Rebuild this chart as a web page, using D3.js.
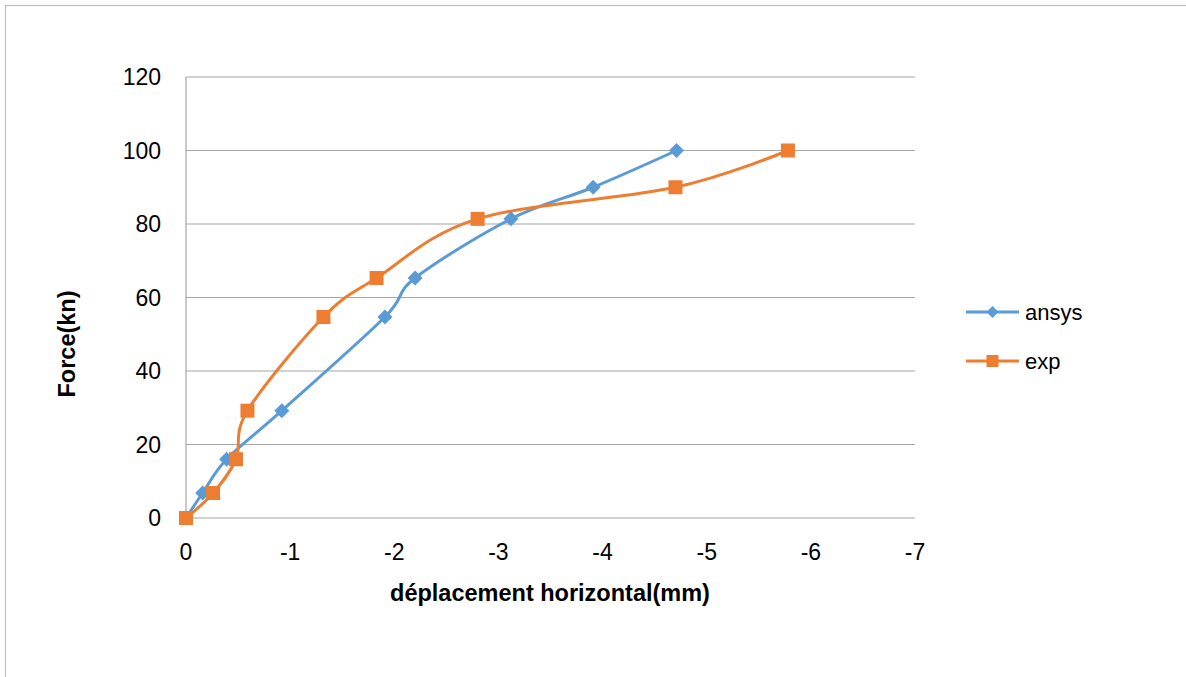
<!DOCTYPE html>
<html>
<head>
    <meta charset="utf-8">
    <title>Force vs déplacement</title>
    <style>
        body { margin: 0; background: #fff; }
        text { font-family: "Liberation Sans", Arial, sans-serif; fill: #000; }
        .grid line { stroke: #a6a6a6; stroke-width: 1.2px; }
        .tick-label { font-size: 23px; }
        .axis-title { font-size: 23.5px; font-weight: bold; }
        .legend text { font-size: 22px; }
    </style>
</head>
<body>
    <svg width="1186" height="677"></svg>

    <script src="https://d3js.org/d3.v7.min.js"></script>
    <script>
        // force levels (kN), shared by both series
        const force = [0, 6.8, 16, 29.2, 54.7, 65.3, 81.4, 90, 100];
        // horizontal displacement (mm)
        const ansysDisp = [0, -0.16, -0.39, -0.92, -1.91, -2.2, -3.12, -3.91, -4.71];
        const expDisp = [0, -0.26, -0.48, -0.59, -1.32, -1.83, -2.8, -4.7, -5.78];

        const xTicks = [0, -1, -2, -3, -4, -5, -6, -7];
        const yTicks = [0, 20, 40, 60, 80, 100, 120];

        const seriesNames = ["ansys", "exp"];
        const colors = { ansys: "#5b9bd5", exp: "#ed7d31" };

        const svg = d3.select("svg");

        // chart border (runs off right / bottom edge)
        svg.append("rect")
            .attr("x", 5.5).attr("y", 5.5)
            .attr("width", 1300).attr("height", 800)
            .attr("fill", "none")
            .attr("stroke", "#bfbfbf")
            .attr("stroke-width", 1.2);

        const x = d3.scaleLinear().domain([0, -7]).range([186, 915]);
        const y = d3.scaleLinear().domain([0, 120]).range([518, 77]);

        // horizontal gridlines
        svg.append("g").attr("class", "grid")
            .selectAll("line")
            .data(yTicks)
            .enter().append("line")
            .attr("x1", x(0)).attr("x2", x(-7))
            .attr("y1", d => y(d)).attr("y2", d => y(d));

        // vertical axis line
        svg.append("line")
            .attr("x1", x(0)).attr("x2", x(0))
            .attr("y1", y(0)).attr("y2", y(120))
            .attr("stroke", "#a6a6a6").attr("stroke-width", 1.2);

        // tick labels
        svg.selectAll(".ylab")
            .data(yTicks)
            .enter().append("text")
            .attr("class", "tick-label")
            .attr("x", 161)
            .attr("y", d => y(d))
            .attr("dy", "0.36em")
            .attr("text-anchor", "end")
            .text(d => d);

        svg.selectAll(".xlab")
            .data(xTicks)
            .enter().append("text")
            .attr("class", "tick-label")
            .attr("x", d => x(d))
            .attr("y", 560)
            .attr("text-anchor", "middle")
            .text(d => d);

        // axis titles
        svg.append("text")
            .attr("class", "axis-title")
            .attr("x", 550).attr("y", 601)
            .attr("text-anchor", "middle")
            .text("déplacement horizontal(mm)");

        svg.append("text")
            .attr("class", "axis-title")
            .attr("transform", "translate(75,344) rotate(-90)")
            .attr("text-anchor", "middle")
            .text("Force(kn)");

        // smoothed lines (Excel-like)
        const line = d3.line()
            .x(d => x(d[0]))
            .y(d => y(d[1]))
            .curve(d3.curveCardinal.tension(0));

        const series = [
            { name: "ansys", pts: ansysDisp.map((d, i) => [d, force[i]]) },
            { name: "exp", pts: expDisp.map((d, i) => [d, force[i]]) }
        ];

        const diamond = "M0,-7.5L7.5,0L0,7.5L-7.5,0Z";
        const square = "M-7,-7H7V7H-7Z";

        series.forEach(s => {
            svg.append("path")
                .attr("d", line(s.pts))
                .attr("fill", "none")
                .attr("stroke", colors[s.name])
                .attr("stroke-width", 3);
        });

        series.forEach(s => {
            svg.selectAll(".m-" + s.name)
                .data(s.pts)
                .enter().append("path")
                .attr("transform", d => "translate(" + x(d[0]) + "," + y(d[1]) + ")")
                .attr("d", s.name === "ansys" ? diamond : square)
                .attr("fill", colors[s.name]);
        });

        // legend
        const legend = svg.append("g").attr("class", "legend");
        seriesNames.forEach((name, i) => {
            const ly = 312 + i * 49;
            legend.append("line")
                .attr("x1", 966).attr("x2", 1019)
                .attr("y1", ly).attr("y2", ly)
                .attr("stroke", colors[name]).attr("stroke-width", 3);
            legend.append("path")
                .attr("transform", "translate(992.5," + ly + ")")
                .attr("d", name === "ansys" ? "M0,-6L6,0L0,6L-6,0Z" : "M-6,-6H6V6H-6Z")
                .attr("fill", colors[name]);
            legend.append("text")
                .attr("x", 1025).attr("y", ly)
                .attr("dy", "0.36em")
                .text(name);
        });
    </script>
</body>
</html>
